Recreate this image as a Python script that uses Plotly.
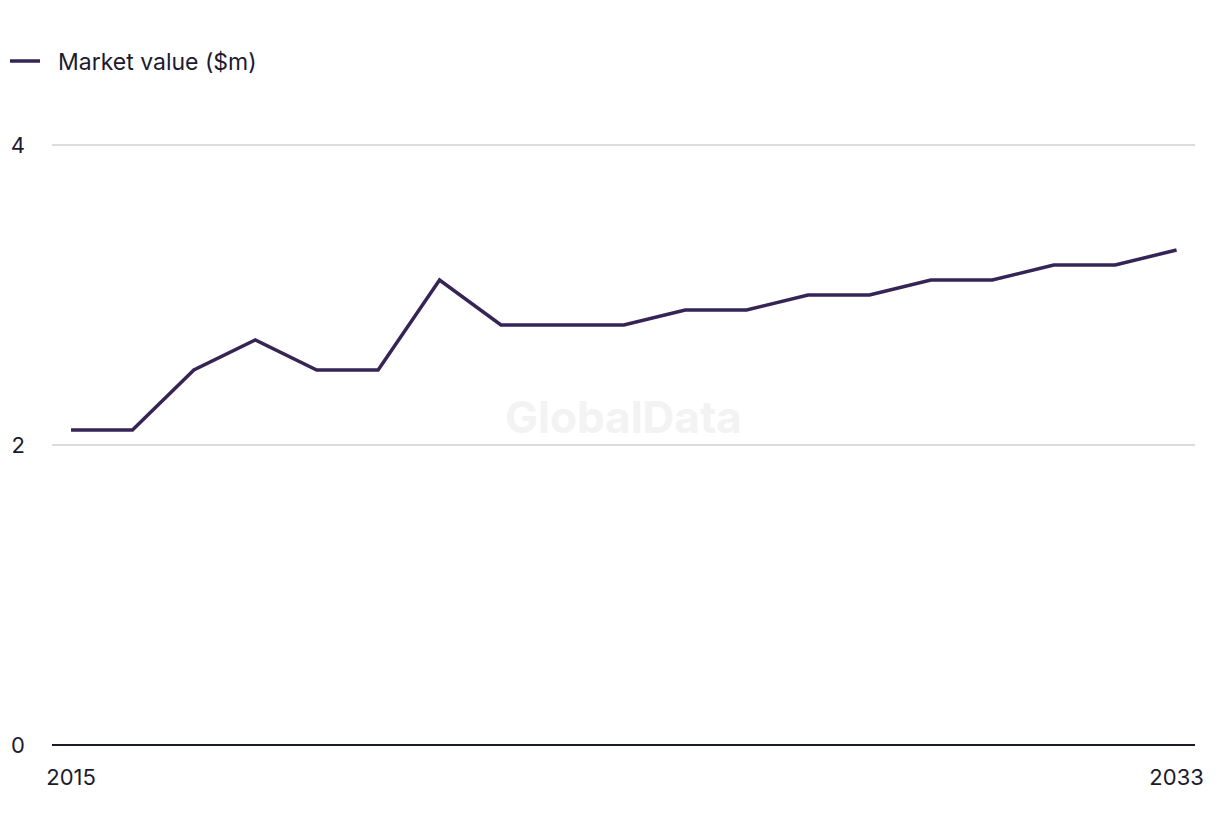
import plotly.graph_objects as go

years = list(range(2015, 2034))
market_value = [2.1, 2.1, 2.5, 2.7, 2.5, 2.5, 3.1, 2.8, 2.8, 2.8, 2.9, 2.9, 3.0, 3.0, 3.1, 3.1, 3.2, 3.2, 3.3]
series_name = "Market value ($m)"
x_ticks = [2015, 2033]
y_ticks = [0, 2, 4]

FONT = "Inter, Liberation Sans, sans-serif"
TEXT = "#1b1b2f"
LINE = "#362456"

fig = go.Figure()
fig.add_trace(go.Scatter(
    x=years, y=market_value, mode="lines", name="\u00a0\u00a0" + series_name,
    line=dict(color=LINE, width=3.5),
))

fig.update_layout(
    width=1220, height=836,
    margin=dict(l=52, r=25, t=142, b=91, autoexpand=False),
    paper_bgcolor="white", plot_bgcolor="white",
    font=dict(family=FONT, size=21, color=TEXT),
    showlegend=True,
    legend=dict(
        orientation="h", xref="container", yref="container",
        x=5 / 1220, y=1 - 61 / 836, xanchor="left", yanchor="middle",
        font=dict(size=23, color=TEXT), itemwidth=30,
    ),
    xaxis=dict(
        range=[2014.69, 2033.3], tickvals=x_ticks, ticktext=[str(v) for v in x_ticks],
        showgrid=False, zeroline=False, showline=False, ticks="",
        ticklabelstandoff=17, automargin=False, tickfont=dict(size=22),
    ),
    yaxis=dict(
        range=[0, 4.02], tickvals=y_ticks, ticktext=[str(v) for v in y_ticks],
        showgrid=True, gridcolor="#dcdcdc", gridwidth=1.5,
        zeroline=True, zerolinecolor="#1b1b2f", zerolinewidth=2,
        showline=False, ticks="", ticklabelstandoff=26, automargin=False,
        tickfont=dict(size=22),
    ),
    annotations=[dict(
        text="<b>GlobalData</b>", x=0.5, y=0.5, xref="paper", yref="paper",
        xanchor="center", yanchor="middle", showarrow=False,
        font=dict(family=FONT, size=44, color="#f3f3f3"),
        yshift=27,
    )],
)

fig.write_html("out.html")
